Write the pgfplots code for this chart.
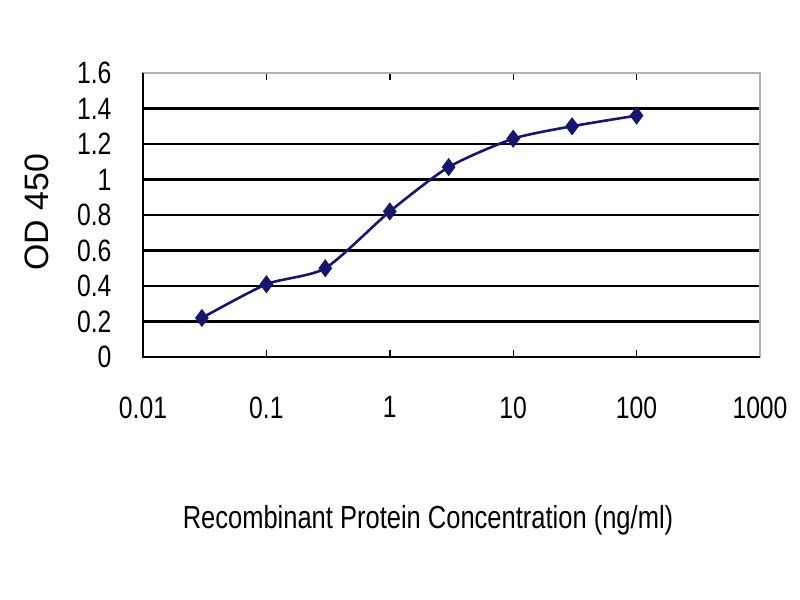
\documentclass[border=0pt]{standalone}
\usepackage{fontspec}
\setmainfont{Liberation Sans}
\newfontfamily\narrowsans[FakeStretch=0.8]{Liberation Sans}
\usepackage{pgfplots}
\pgfplotsset{compat=1.18}
\definecolor{navy}{RGB}{22,22,112}

\begin{document}
\begin{tikzpicture}
\path[use as bounding box] (0,0) rectangle (800bp,600bp);
\begin{axis}[
    at={(143bp,243bp)}, anchor=south west,
    scale only axis,
    width=617bp, height=284bp,
    xmode=log,
    xmin=0.01, xmax=1000,
    ymin=0, ymax=1.6,
    xtick={0.01,0.1,1,10,100,1000},
    xticklabels={0.01,0.1,1,10,100,1000},
    xminorticks=false,
    ytick={0,0.2,0.4,0.6,0.8,1,1.2,1.4,1.6},
    yticklabels={0,0.2,0.4,0.6,0.8,1,1.2,1.4,1.6},
    ymajorgrids,
    grid style={black, line width=2.6bp},
    axis line style={draw=gray!60, line width=1.8bp},
    xtick align=inside,
    major tick length=7bp,
    xtick style={black, line width=1.4bp},
    ytick style={draw=none},
    ticklabel style={font=\narrowsans\fontsize{31}{31}\selectfont},
    xticklabel style={yshift=-36bp},
    yticklabel style={xshift=-28bp},
    /pgf/number format/assume math mode=true,
    clip=false,
]
\addplot[color=navy, line width=2.6bp, smooth, tension=0.4,
    mark=diamond*, mark size=7bp, mark options={fill=navy, solid}]
    coordinates {
    (0.03,0.22) (0.1,0.41) (0.3,0.50) (1,0.82)
    (3,1.07) (10,1.23) (30,1.30) (100,1.36)
};
\draw[black, line width=2.6bp] (rel axis cs:0,1) -- (rel axis cs:0,0) -- (rel axis cs:1,0);
\end{axis}
\node[rotate=90, font=\fontsize{34}{34}\selectfont] at (37bp,388bp) {OD 450};
\node[font=\narrowsans\fontsize{32}{32}\selectfont] at (428bp,80bp)
    {Recombinant Protein Concentration (ng/ml)};
\end{tikzpicture}
\end{document}
